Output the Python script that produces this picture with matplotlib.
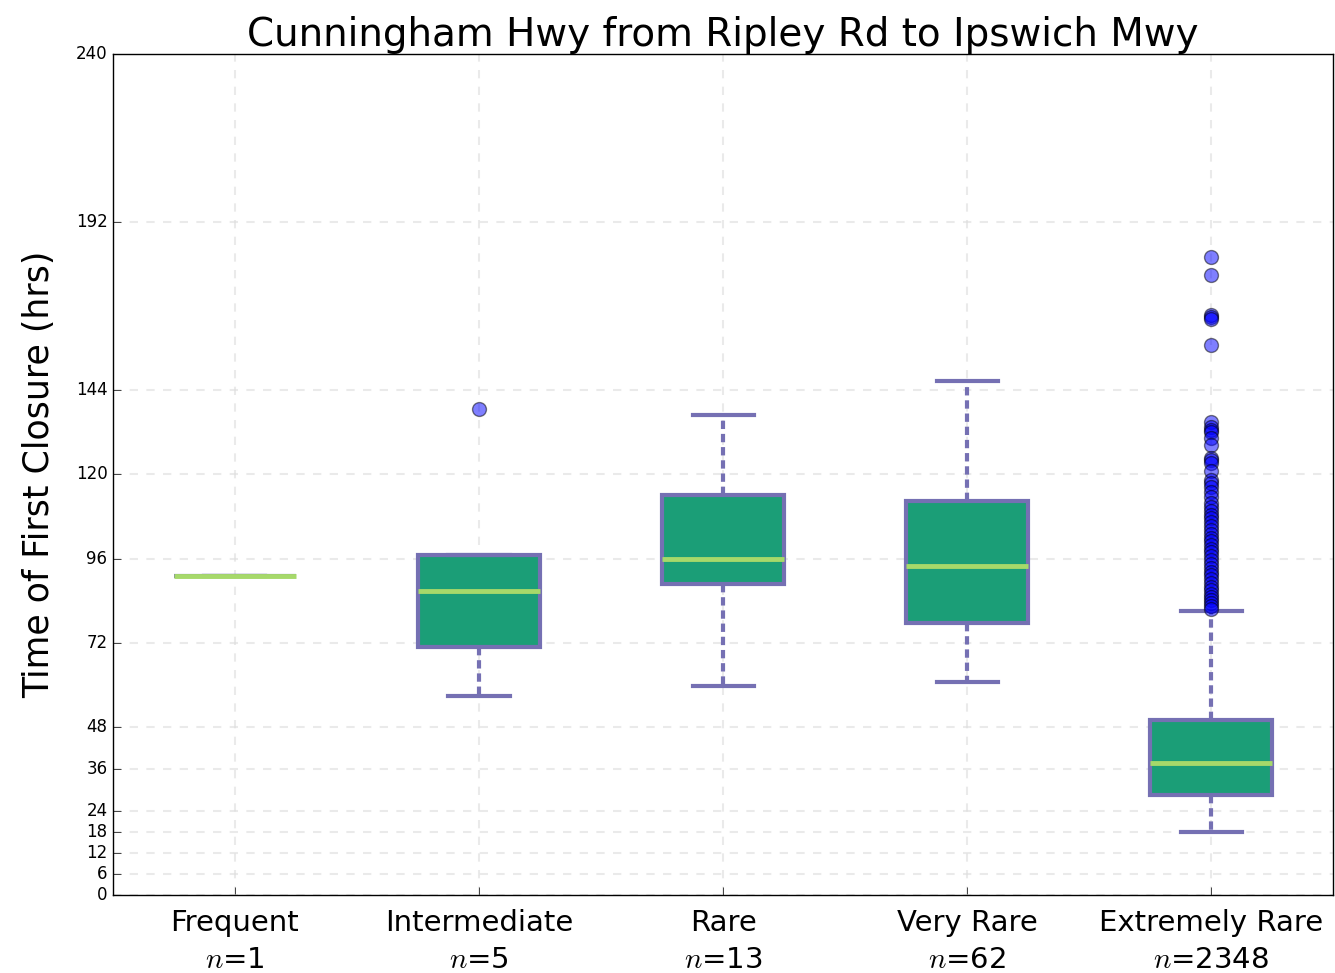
import matplotlib
matplotlib.use("Agg")
import matplotlib.pyplot as plt

plt.style.use("classic")

categories = ["Frequent", "Intermediate", "Rare", "Very Rare", "Extremely Rare"]
counts = [1, 5, 13, 62, 2348]
medians = [91.0, 86.8, 95.9, 93.9, 37.7]
q1 = [91.0, 70.8, 88.8, 77.6, 28.5]
q3 = [91.0, 97.0, 114.2, 112.4, 49.9]
whis_lo = [91.0, 56.8, 59.6, 60.8, 18.0]
whis_hi = [91.0, 97.0, 137.0, 146.7, 81.0]
fliers = [
    [],
    [138.7],
    [],
    [],
    [182.0, 176.9, 165.6, 165.0, 164.5, 156.9, 135.1, 133.6, 132.8, 132.1, 130.5,
     128.4, 124.7, 124.0, 123.3, 121.0, 118.4, 117.5, 116.4, 115.0, 113.5, 112.0,
     110.7, 109.5, 108.4, 107.5, 106.4, 105.2, 104.2, 103.0, 101.9, 101.0, 99.9,
     98.8, 97.9, 96.8, 95.6, 94.4, 93.3, 92.2, 91.3, 90.1, 89.0, 88.0, 87.0, 86.0,
     85.0, 84.2, 83.3, 82.5, 81.6],
]
yticks = [0, 6, 12, 18, 24, 36, 48, 72, 96, 120, 144, 192, 240]

stats = []
for i in range(len(categories)):
    stats.append(dict(med=medians[i], q1=q1[i], q3=q3[i], whislo=whis_lo[i],
                      whishi=whis_hi[i], fliers=fliers[i], label=categories[i]))

fig = plt.figure(figsize=(13.35, 9.73), dpi=100, facecolor="white")
ax = fig.add_axes([0.0846, 0.0802, 0.914, 0.8643])

purple = "#7570b3"
bp = ax.bxp(stats, positions=range(1, 6), widths=0.5, patch_artist=True,
            boxprops=dict(facecolor="#1b9e77", edgecolor=purple, linewidth=3),
            medianprops=dict(color="#a6d96a", linewidth=3.5),
            whiskerprops=dict(color=purple, linewidth=3, linestyle=(0, (6, 3.5))),
            capprops=dict(color=purple, linewidth=3),
            flierprops=dict(marker="o", markerfacecolor="blue", markeredgecolor="black",
                            alpha=0.5, markersize=10, linestyle="none"))

ax.set_xlim(0.5, 5.5)
ax.set_ylim(0, 240)
ax.set_yticks(yticks)
ax.set_yticklabels([str(t) for t in yticks], fontsize=12)
ax.set_xticks(range(1, 6))
ax.set_xticklabels([f"{c}\n$n$={n}" for c, n in zip(categories, counts)], fontsize=21,
                   linespacing=1.4)
ax.tick_params(axis="x", top=False, length=6, pad=10)
ax.tick_params(axis="y", right=False, length=6)
ax.grid(True, color="#dddddd", linestyle="--", linewidth=1.5, alpha=0.6)
ax.set_axisbelow(True)
ax.set_ylabel("Time of First Closure (hrs)", fontsize=25, labelpad=14)
ax.set_title("Cunningham Hwy from Ripley Rd to Ipswich Mwy", fontsize=28, pad=6)

fig.savefig("out.png", dpi=100, facecolor="white")
